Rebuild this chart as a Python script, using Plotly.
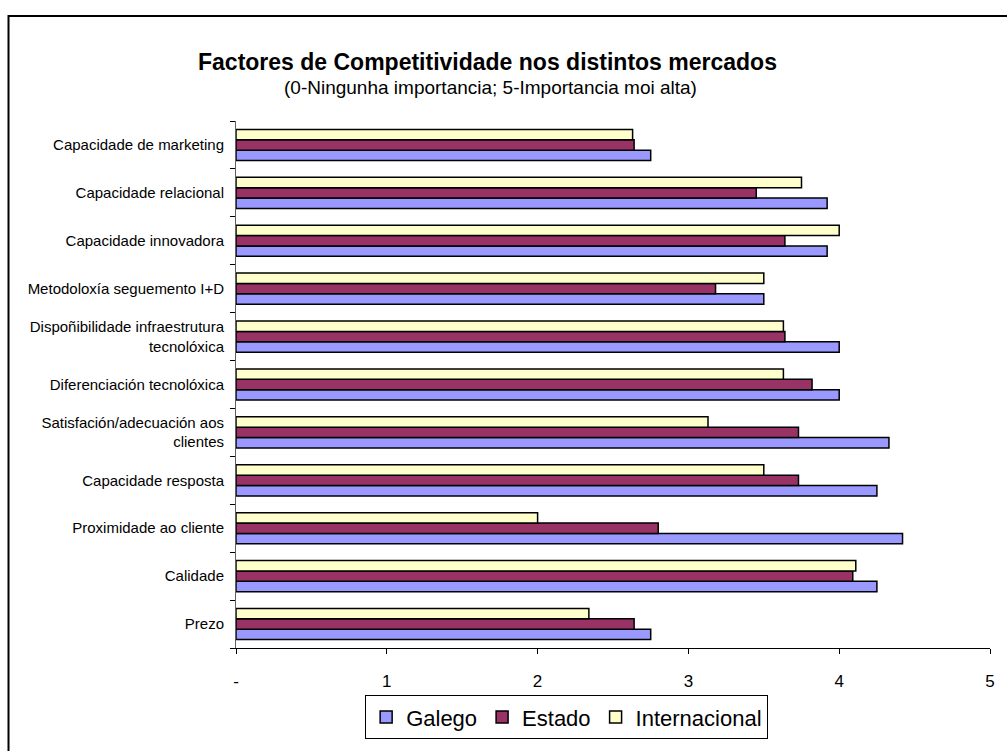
import plotly.graph_objects as go

# Competitiveness factors, listed from the bottom of the chart to the top
categories = [
    "Prezo",
    "Calidade",
    "Proximidade ao cliente",
    "Capacidade resposta",
    "Satisfación/adecuación aos<br>clientes",
    "Diferenciación tecnolóxica",
    "Dispoñibilidade infraestrutura<br>tecnolóxica",
    "Metodoloxía seguemento I+D",
    "Capacidade innovadora",
    "Capacidade relacional",
    "Capacidade de marketing",
]

galego = [2.75, 4.25, 4.42, 4.25, 4.33, 4.00, 4.00, 3.50, 3.92, 3.92, 2.75]
estado = [2.64, 4.09, 2.80, 3.73, 3.73, 3.82, 3.64, 3.18, 3.64, 3.45, 2.64]
internacional = [2.34, 4.11, 2.00, 3.50, 3.13, 3.63, 3.63, 3.50, 4.00, 3.75, 2.63]

x_ticks = [0, 1, 2, 3, 4, 5]
x_tick_labels = ["-", "1", "2", "3", "4", "5"]

series = [
    ("Galego", galego, "#9999FF"),
    ("Estado", estado, "#993366"),
    ("Internacional", internacional, "#FFFFCC"),
]

W, H = 1007, 751
L, R, T, B = 236, 12, 121, 83
pw, ph = W - L - R, H - T - B


def px_x(px):
    return (px - L) / pw


def px_y(py):
    return (H - B - py) / ph


fig = go.Figure()
for name, vals, color in series:
    fig.add_trace(go.Bar(
        y=categories, x=vals, name=name, orientation="h",
        marker=dict(color=color, line=dict(color="#000000", width=1.5)),
    ))

font_family = "Liberation Sans, Arial, sans-serif"

fig.update_layout(
    width=W, height=H,
    margin=dict(l=L, r=R, t=T, b=B),
    paper_bgcolor="#FFFFFF", plot_bgcolor="#FFFFFF",
    barmode="group", bargap=0.35, bargroupgap=0.0,
    font=dict(family=font_family, color="#000000"),
    showlegend=True,
    legend=dict(
        orientation="h", x=px_x(366), xanchor="left",
        y=px_y(717), yanchor="top",
        bordercolor="#000000", borderwidth=1,
        font=dict(size=22, family=font_family),
        traceorder="normal", itemwidth=30,
    ),
    xaxis=dict(
        range=[0, 5], tickvals=x_ticks, ticktext=x_tick_labels,
        showgrid=False, zeroline=False,
        showline=True, linecolor="#000000", linewidth=1,
        ticks="outside", ticklen=5, tickcolor="#000000",
        tickfont=dict(size=17), ticklabelstandoff=13,
    ),
    yaxis=dict(
        type="category", tickson="boundaries",
        showgrid=False, zeroline=False,
        showline=True, linecolor="#606060", linewidth=1,
        ticks="outside", ticklen=5, tickcolor="#000000",
        tickfont=dict(size=15), ticklabelstandoff=8,
    ),
    annotations=[
        dict(text="<b>Factores de Competitividade nos distintos mercados</b>",
             xref="paper", yref="paper", x=px_x(489), y=px_y(60),
             xanchor="center", yanchor="middle", showarrow=False,
             font=dict(size=23, family=font_family)),
        dict(text="(0-Ningunha importancia; 5-Importancia moi alta)",
             xref="paper", yref="paper", x=px_x(492), y=px_y(86),
             xanchor="center", yanchor="middle", showarrow=False,
             font=dict(size=19, family=font_family)),
    ],
    shapes=[
        dict(type="rect", xref="paper", yref="paper",
             x0=px_x(7), x1=px_x(1040), y0=px_y(800), y1=px_y(12),
             line=dict(color="#000000", width=2), fillcolor="rgba(0,0,0,0)"),
    ],
)

fig.write_html("out.html")
